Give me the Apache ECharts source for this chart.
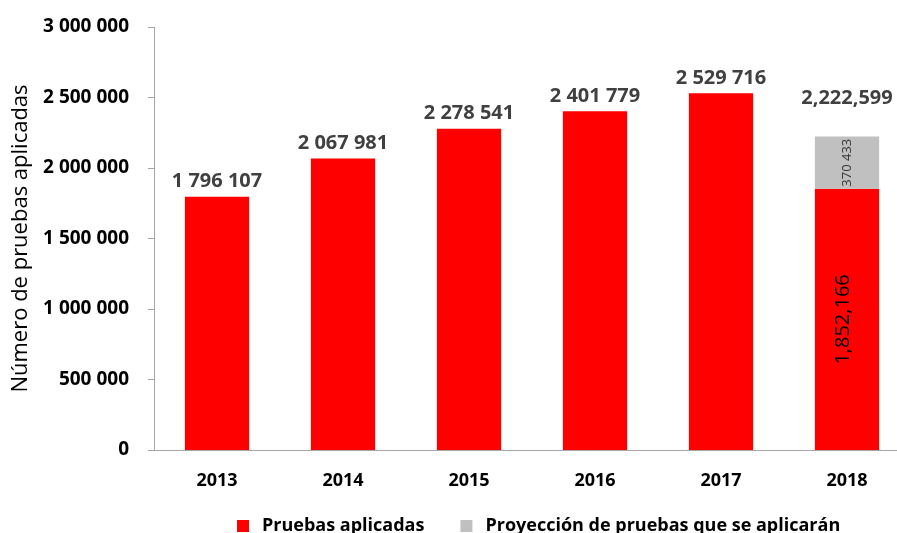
<!DOCTYPE html>
<html>
<head>
<meta charset="utf-8">
<script src="https://cdn.jsdelivr.net/npm/echarts@6/dist/echarts.min.js"></script>
<style>
  html, body { margin: 0; padding: 0; background: #fff; overflow: hidden; }
  #chart { width: 910px; height: 533px; }
</style>
</head>
<body>
<div id="chart"></div>
<script>
const years = ['2013', '2014', '2015', '2016', '2017', '2018']
const aplicadas = [1796107, 2067981, 2278541, 2401779, 2529716, 1852166]
const proyeccion = [null, null, null, null, null, 370433]
const yTicks = [0, 500000, 1000000, 1500000, 2000000, 2500000, 3000000]

const totals = aplicadas.map((v, i) => v + (proyeccion[i] || 0))

const spaced = (v) => String(v).replace(/\B(?=(\d{3})+(?!\d))/g, ' ')
const commas = (v) => String(v).replace(/\B(?=(\d{3})+(?!\d))/g, ',')

const FONT = 'Open Sans'
const chart = echarts.init(document.getElementById('chart'))

chart.setOption({
  animation: false,
  textStyle: { fontFamily: FONT },
  grid: { left: 154, top: 27, right: 0, height: 423, containLabel: false },
  legend: {
    left: 232,
    top: 512,
    itemWidth: 12,
    itemHeight: 12,
    itemGap: 36,
    icon: 'rect',
    textStyle: { fontFamily: FONT, fontSize: 18, fontWeight: 'bold', color: '#000', padding: [0, 0, 0, 8] },
    data: ['Pruebas aplicadas', 'Proyección de pruebas que se aplicarán']
  },
  xAxis: {
    type: 'category',
    data: years,
    axisLine: { lineStyle: { color: '#a6a6a6', width: 1 } },
    axisTick: { show: false },
    axisLabel: { fontFamily: FONT, fontSize: 18, fontWeight: 'bold', color: '#000', margin: 22 }
  },
  yAxis: {
    type: 'value',
    min: yTicks[0],
    max: yTicks[yTicks.length - 1],
    interval: 500000,
    name: 'Número de pruebas aplicadas',
    nameLocation: 'middle',
    nameGap: 120,
    nameTextStyle: { fontFamily: FONT, fontSize: 22, color: '#000' },
    axisLine: { show: true, lineStyle: { color: '#a6a6a6', width: 1 } },
    axisTick: { show: true, length: 6, lineStyle: { color: '#a6a6a6' } },
    splitLine: { show: false },
    axisLabel: {
      fontFamily: FONT, fontSize: 19, fontWeight: 'bold', color: '#000', margin: 25,
      formatter: (v) => spaced(v)
    }
  },
  series: [
    {
      name: 'Pruebas aplicadas',
      type: 'bar',
      stack: 'total',
      barWidth: '51%',
      itemStyle: { color: '#ff0000' },
      data: aplicadas.map((v, i) => ({
        value: v,
        label: proyeccion[i]
          ? { show: true, position: 'inside', rotate: 90, offset: [0, -4], formatter: commas(v), fontSize: 20, color: '#000', fontWeight: 'normal' }
          : { show: true, position: 'top', distance: 5, formatter: spaced(v), fontSize: 20, fontWeight: 'bold', color: '#404040' }
      }))
    },
    {
      name: 'Proyección de pruebas que se aplicarán',
      type: 'bar',
      stack: 'total',
      barWidth: '51%',
      itemStyle: { color: '#c0c0c0' },
      label: {
        show: true, position: 'inside', rotate: 90, fontSize: 13, color: '#333',
        formatter: (p) => spaced(p.value)
      },
      data: proyeccion
    },
    {
      name: 'total',
      type: 'line',
      symbol: 'circle',
      symbolSize: 1,
      itemStyle: { color: 'rgba(0,0,0,0)' },
      lineStyle: { opacity: 0 },
      silent: true,
      data: totals.map((v, i) => proyeccion[i] ? v : null),
      label: {
        show: true, position: 'top', distance: 28, fontSize: 20, fontWeight: 'bold', color: '#404040',
        formatter: (p) => commas(p.value)
      }
    }
  ]
})
</script>
</body>
</html>
